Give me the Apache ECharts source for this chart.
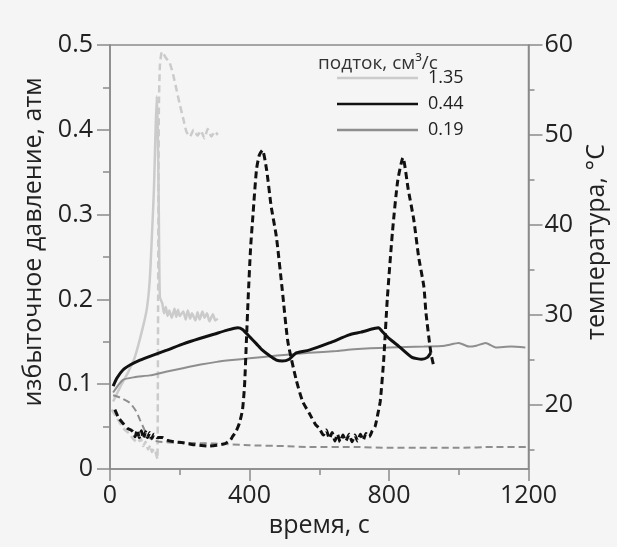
<!DOCTYPE html>
<html>
<head>
<meta charset="utf-8">
<script src="https://cdn.jsdelivr.net/npm/echarts@6/dist/echarts.min.js"></script>
<style>
  html, body { margin: 0; padding: 0; background: #f5f5f5; }
  #chart { width: 617px; height: 547px; }
</style>
</head>
<body>
<div id="chart"></div>
<script>
// подток 1.35 см3/с — давление (пунктир) и температура (сплошная)
var tP135 = [5, 20, 35, 43, 55, 65, 80, 88, 95, 102, 109, 116, 120, 127, 134, 136, 138, 140, 143, 149, 160, 171, 181, 191, 200, 209, 219, 229, 240, 251, 260, 271, 280, 291, 300, 309];
var p135 = [0.07, 0.06, 0.05, 0.046, 0.042, 0.036, 0.031, 0.036, 0.027, 0.032, 0.023, 0.028, 0.02, 0.024, 0.015, 0.012, 0.2, 0.42, 0.475, 0.492, 0.485, 0.479, 0.465, 0.447, 0.43, 0.415, 0.398, 0.392, 0.4, 0.393, 0.399, 0.39, 0.401, 0.392, 0.398, 0.394];
var tT135 = [9, 29, 50, 71, 94, 106, 114, 121, 126, 130, 134, 137, 140, 143, 150, 155, 160, 165, 170, 177, 185, 190, 195, 200, 210, 217, 223, 230, 235, 245, 251, 257, 265, 271, 278, 285, 295, 302, 309];
var temp135 = [20.4, 22.0, 23.5, 25.3, 28.6, 30.8, 33.9, 39.5, 44.0, 49.6, 54.3, 50.6, 41.2, 32.0, 31.3, 30.2, 30.9, 29.9, 30.5, 29.7, 30.7, 29.8, 30.6, 29.9, 30.4, 29.5, 30.5, 29.6, 30.2, 29.4, 30.3, 29.5, 30.4, 29.7, 30.2, 29.3, 30.1, 29.4, 29.6];

// подток 0.44
var tP044 = [14, 25, 37, 50, 60, 66, 72, 78, 84, 90, 96, 102, 108, 114, 120, 126, 135, 150, 163, 185, 209, 235, 257, 285, 306, 330, 345, 351, 362, 371, 380, 386, 391, 396, 403, 410, 420, 428, 437, 449, 462, 477, 494, 510, 534, 552, 571, 590, 600, 612, 620, 629, 637, 645, 652, 660, 668, 676, 686, 694, 702, 710, 718, 726, 734, 743, 752, 760, 768, 775, 785, 795, 810, 825, 840, 855, 871, 885, 900, 906, 920, 929];
var p044 = [0.07, 0.06, 0.054, 0.048, 0.046, 0.044, 0.038, 0.046, 0.037, 0.045, 0.036, 0.044, 0.037, 0.043, 0.036, 0.041, 0.037, 0.037, 0.034, 0.032, 0.031, 0.029, 0.028, 0.027, 0.028, 0.03, 0.034, 0.038, 0.045, 0.054, 0.07, 0.1, 0.15, 0.2, 0.26, 0.3, 0.353, 0.37, 0.376, 0.353, 0.31, 0.274, 0.211, 0.15, 0.105, 0.08, 0.066, 0.052, 0.048, 0.04, 0.046, 0.036, 0.043, 0.033, 0.041, 0.032, 0.04, 0.033, 0.041, 0.032, 0.04, 0.033, 0.041, 0.034, 0.042, 0.038, 0.045, 0.05, 0.065, 0.08, 0.13, 0.2, 0.28, 0.34, 0.367, 0.33, 0.294, 0.25, 0.215, 0.184, 0.137, 0.12];
var tT044 = [9, 20, 37, 60, 86, 120, 163, 210, 257, 300, 334, 366, 380, 400, 420, 437, 457, 477, 494, 514, 534, 571, 629, 686, 720, 757, 770, 780, 800, 829, 866, 894, 910, 920];
var temp044 = [22.1, 23.0, 23.9, 24.5, 25.0, 25.5, 26.1, 26.8, 27.4, 27.9, 28.3, 28.6, 28.4, 27.6, 26.8, 26.1, 25.5, 25.0, 24.9, 25.1, 25.8, 26.1, 26.9, 27.8, 28.1, 28.5, 28.6, 28.2, 27.4, 26.5, 25.3, 25.1, 25.3, 25.8];

// подток 0.19
var tP019 = [9, 30, 57, 75, 86, 98, 109, 125, 143, 200, 300, 400, 500, 571, 700, 800, 900, 1000, 1100, 1200];
var p019 = [0.087, 0.084, 0.078, 0.068, 0.058, 0.047, 0.038, 0.034, 0.032, 0.031, 0.03, 0.028, 0.027, 0.026, 0.026, 0.025, 0.025, 0.025, 0.026, 0.026];
var tT019 = [9, 37, 70, 114, 160, 209, 260, 306, 350, 400, 480, 571, 650, 700, 800, 900, 960, 1000, 1029, 1050, 1077, 1106, 1150, 1191];
var temp019 = [21.4, 22.8, 23.1, 23.3, 23.7, 24.1, 24.5, 24.8, 25.0, 25.2, 25.5, 25.8, 26.0, 26.2, 26.4, 26.5, 26.6, 26.9, 26.5, 26.6, 26.9, 26.4, 26.5, 26.4];

// подписи осей
var pressTicks = [0, 0.1, 0.2, 0.3, 0.4, 0.5];
var tempLabels = [20, 30, 40, 50, 60];
var tempMinor = [15, 25, 35, 45, 55];
var flowNames = ['1.35', '0.44', '0.19'];

var colLight = '#cbcbcb';
var colBlack = '#111111';
var colGray = '#8e8e8e';
var axisCol = '#8a8a8a';
var font = 'Open Sans';

function zip(t, v) {
  return t.map(function (x, i) { return [x, v[i]]; });
}

function line(name, t, v, color, width, dashed, yIdx, z) {
  return {
    name: name,
    type: 'line',
    yAxisIndex: yIdx,
    data: zip(t, v),
    symbol: 'none',
    smooth: 0.2,
    z: z,
    lineStyle: { color: color, width: width, type: dashed ? [7, 4] : 'solid' },
    itemStyle: { color: color }
  };
}

var chart = echarts.init(document.getElementById('chart'));
chart.setOption({
  backgroundColor: '#f5f5f5',
  animation: false,
  title: {
    text: 'подток, см³/с',
    left: 313,
    top: 49,
    textStyle: { fontFamily: font, fontSize: 19, fontWeight: 'normal', color: '#333' }
  },
  legend: {
    data: flowNames,
    orient: 'vertical',
    left: 332,
    top: 64,
    icon: 'rect',
    itemWidth: 81,
    itemHeight: 2.5,
    itemGap: 8,
    textStyle: { fontFamily: font, fontSize: 18, color: '#222', padding: [0, 0, 0, 5], lineHeight: 18 }
  },
  grid: {
    left: 110, right: 85, top: 45, bottom: 78,
    show: true, borderColor: axisCol, borderWidth: 1.5, backgroundColor: 'transparent'
  },
  xAxis: {
    type: 'value',
    min: 0, max: 1200, interval: 400,
    name: 'время, с',
    nameLocation: 'middle',
    nameGap: 40,
    nameTextStyle: { fontFamily: font, fontSize: 25, color: '#222' },
    axisLine: { lineStyle: { color: axisCol, width: 1.5 } },
    axisTick: { length: 12, lineStyle: { color: axisCol, width: 1.5 } },
    minorTick: { show: true, splitNumber: 2, length: 6, lineStyle: { color: axisCol, width: 1.5 } },
    axisLabel: { fontFamily: font, fontSize: 25, color: '#222', margin: 14, formatter: function (v) { return String(v); } },
    splitLine: { show: false }
  },
  yAxis: [
    {
      type: 'value',
      position: 'left',
      min: 0, max: 0.5, interval: 0.1,
      name: 'избыточное давление, атм',
      nameLocation: 'middle',
      nameGap: 64,
      nameTextStyle: { fontFamily: font, fontSize: 25, color: '#222', padding: [0, 0, 0, 30] },
      axisLine: { show: true, lineStyle: { color: axisCol, width: 1.5 } },
      axisTick: { length: 13, lineStyle: { color: axisCol, width: 1.5 } },
      minorTick: { show: true, splitNumber: 2, length: 7, lineStyle: { color: axisCol, width: 1.5 } },
      axisLabel: {
        fontFamily: font, fontSize: 25, color: '#222', margin: 17,
        customValues: pressTicks,
        formatter: function (v) { return v === 0 ? '0' : v.toFixed(1); }
      },
      splitLine: { show: false }
    },
    {
      type: 'value',
      position: 'right',
      min: 12.9, max: 60,
      name: 'температура, °C',
      nameLocation: 'middle',
      nameGap: 46,
      nameTextStyle: { fontFamily: font, fontSize: 25, color: '#222', padding: [0, 0, 0, 30] },
      axisLine: { show: true, lineStyle: { color: axisCol, width: 1.5 } },
      axisTick: { length: 14, customValues: tempLabels, lineStyle: { color: axisCol, width: 1.5 } },
      axisLabel: { fontFamily: font, fontSize: 25, color: '#222', margin: 16, customValues: tempLabels },
      splitLine: { show: false }
    },
    {
      // короткие засечки правой оси
      type: 'value',
      position: 'right',
      min: 12.9, max: 60,
      axisLine: { show: false },
      axisTick: { show: true, length: 6, customValues: tempMinor, lineStyle: { color: axisCol, width: 1.5 } },
      axisLabel: { show: false },
      splitLine: { show: false }
    }
  ],
  series: [
    line('1.35', tT135, temp135, colLight, 2.5, false, 1, 2),
    line('p1.35', tP135, p135, colLight, 2.5, true, 0, 2),
    line('0.19', tT019, temp019, colGray, 2, false, 1, 3),
    line('p0.19', tP019, p019, colGray, 2, true, 0, 3),
    line('0.44', tT044, temp044, colBlack, 3, false, 1, 4),
    line('p0.44', tP044, p044, colBlack, 3, true, 0, 4)
  ]
});
</script>
</body>
</html>
